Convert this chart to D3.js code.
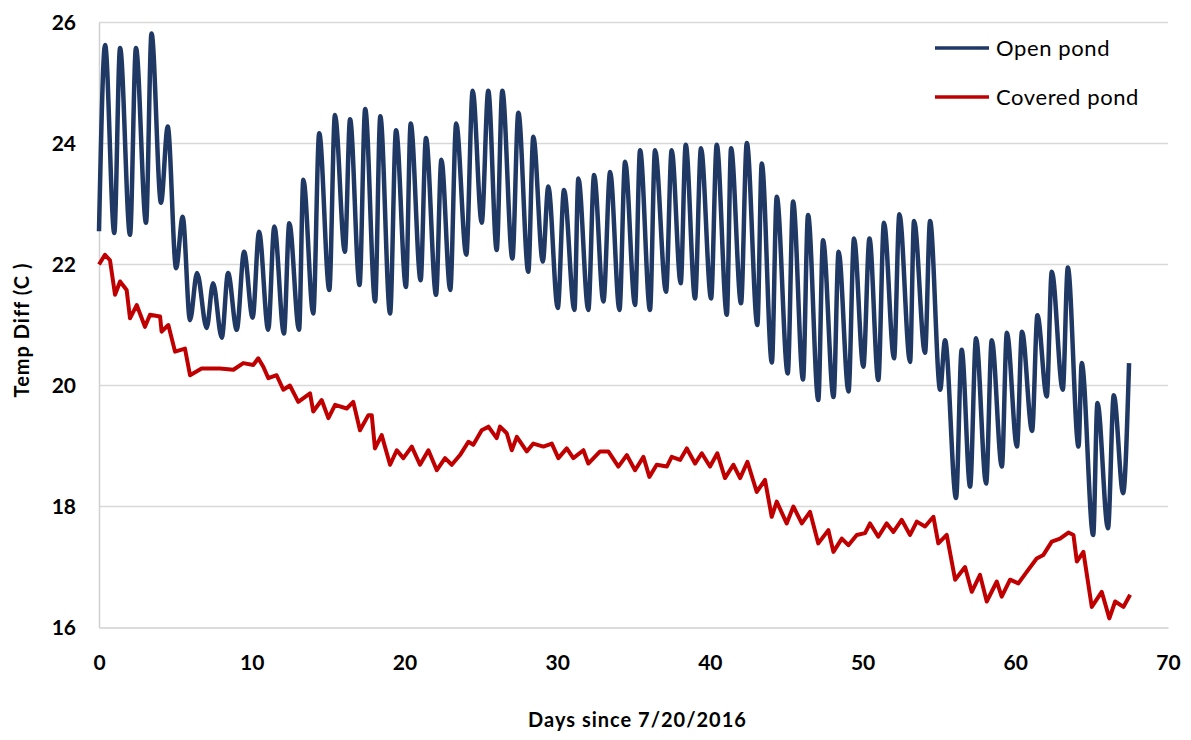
<!DOCTYPE html>
<html>
<head>
<meta charset="utf-8">
<script src="https://cdn.jsdelivr.net/npm/d3@7.9.0/dist/d3.min.js"></script>
<style>
  body { margin: 0; background: #fff; }
  svg { display: block; font-family: Lato, "Open Sans", sans-serif; }
</style>
</head>
<body>
<svg width="1191" height="740"></svg>
<script>
// open pond: daily peaks and troughs
const openDays = [0.0, 0.4, 1.0, 1.38, 2.03, 2.42, 3.08, 3.44, 4.06, 4.5, 5.05, 5.48, 5.96, 6.42, 7.05, 7.47, 8.04, 8.45, 9.02, 9.5,
  10.06, 10.48, 11.08, 11.48, 12.11, 12.46, 13.1, 13.38, 14.03, 14.42, 15.08, 15.45, 16.1, 16.44, 17.06, 17.43, 18.08, 18.42, 19.06, 19.45,
  20.1, 20.41, 21.06, 21.41, 22.07, 22.42, 23.0, 23.39, 24.05, 24.47, 25.06, 25.49, 26.04, 26.41, 27.07, 27.46, 28.11, 28.44, 29.06, 29.42,
  30.04, 30.45, 31.13, 31.39, 32.04, 32.42, 33.03, 33.47, 34.08, 34.45, 35.1, 35.43, 36.08, 36.41, 37.13, 37.5, 38.09, 38.42, 39.03, 39.42,
  40.08, 40.45, 41.11, 41.39, 42.04, 42.42, 43.11, 43.4, 44.06, 44.38, 45.1, 45.45, 46.1, 46.43, 47.1, 47.41, 48.1, 48.43, 49.08, 49.44,
  50.05, 50.45, 51.03, 51.4, 52.06, 52.41, 53.11, 53.37, 54.09, 54.42, 55.08, 55.4, 56.12, 56.49, 57.04, 57.43, 58.09, 58.46, 59.12, 59.45,
  60.11, 60.44, 61.1, 61.45, 62.06, 62.39, 63.11, 63.44, 64.14, 64.35, 65.1, 65.38, 66.07, 66.45, 67.06, 67.45];
const openTemp = [22.55, 25.63, 22.52, 25.58, 22.49, 25.58, 22.69, 25.82, 23.02, 24.28, 21.94, 22.79, 21.08, 21.86, 20.95, 21.69, 20.79, 21.86, 20.92, 22.21,
  21.12, 22.54, 20.92, 22.63, 20.86, 22.68, 20.92, 23.40, 21.19, 24.17, 21.58, 24.47, 22.21, 24.40, 21.66, 24.57, 21.39, 24.45, 21.19, 24.22,
  21.63, 24.33, 21.74, 24.09, 21.50, 23.73, 21.58, 24.33, 22.16, 24.87, 22.69, 24.87, 22.24, 24.87, 22.10, 24.51, 21.88, 24.11, 22.05, 23.29,
  21.28, 23.23, 21.25, 23.42, 21.25, 23.48, 21.39, 23.53, 21.25, 23.70, 21.33, 23.89, 21.25, 23.89, 21.55, 23.89, 21.69, 23.98, 21.44, 23.92,
  21.44, 23.98, 21.17, 23.92, 21.36, 24.01, 21.0, 23.67, 20.38, 23.12, 20.2, 23.04, 20.1, 22.82, 19.76, 22.40, 19.81, 22.21, 19.90, 22.43,
  20.31, 22.43, 20.09, 22.69, 20.45, 22.83, 20.39, 22.72, 20.54, 22.72, 19.93, 20.75, 18.14, 20.59, 18.33, 20.78, 18.38, 20.75, 18.66, 20.87,
  18.99, 20.89, 19.25, 21.16, 19.82, 21.88, 19.93, 21.95, 18.99, 20.37, 17.53, 19.71, 17.64, 19.84, 18.22, 20.37];

// covered pond
const coveredDays = [0.0, 0.39, 0.72, 1.05, 1.38, 1.81, 2.03, 2.47, 3.01, 3.34, 4.0, 4.1, 4.54, 4.98, 5.63, 5.96, 6.72, 7.92, 8.8, 9.45,
  10.1, 10.43, 10.76, 11.09, 11.63, 12.07, 12.5, 13.05, 13.82, 14.03, 14.58, 15.02, 15.46, 16.22, 16.65, 17.09, 17.64, 17.86, 18.07, 18.51,
  19.06, 19.5, 19.93, 20.48, 21.02, 21.57, 22.12, 22.66, 23.1, 23.64, 24.19, 24.51, 25.06, 25.5, 26.04, 26.26, 26.7, 27.03, 27.36, 28.01,
  28.44, 29.1, 29.65, 30.08, 30.63, 31.06, 31.72, 32.04, 32.81, 33.35, 34.01, 34.56, 35.1, 35.65, 36.04, 36.52, 37.18, 37.5, 38.05, 38.49,
  39.03, 39.47, 40.01, 40.49, 40.99, 41.54, 41.98, 42.46, 43.07, 43.61, 44.05, 44.38, 45.03, 45.47, 46.02, 46.56, 47.1, 47.76, 48.09, 48.64,
  49.07, 49.62, 50.16, 50.49, 51.03, 51.58, 52.02, 52.56, 53.11, 53.55, 54.09, 54.64, 54.96, 55.51, 56.06, 56.71, 57.15, 57.69, 58.13, 58.79,
  59.11, 59.66, 60.2, 60.75, 61.4, 61.84, 62.39, 62.93, 63.48, 63.81, 64.03, 64.46, 65.01, 65.66, 66.16, 66.54, 67.08, 67.52];
const coveredTemp = [22.0, 22.16, 22.07, 21.5, 21.72, 21.58, 21.11, 21.33, 20.97, 21.17, 21.14, 20.89, 21.0, 20.56, 20.61, 20.17, 20.28, 20.28, 20.26, 20.37,
  20.34, 20.45, 20.31, 20.12, 20.17, 19.93, 20.0, 19.73, 19.87, 19.57, 19.76, 19.46, 19.68, 19.62, 19.73, 19.26, 19.51, 19.51, 18.96, 19.18,
  18.69, 18.93, 18.80, 18.99, 18.69, 18.93, 18.60, 18.80, 18.69, 18.85, 19.07, 19.02, 19.26, 19.32, 19.13, 19.32, 19.21, 18.93, 19.15, 18.91,
  19.04, 18.99, 19.04, 18.80, 18.96, 18.80, 18.93, 18.71, 18.91, 18.91, 18.66, 18.85, 18.60, 18.82, 18.49, 18.69, 18.66, 18.82, 18.77, 18.96,
  18.71, 18.88, 18.66, 18.88, 18.47, 18.69, 18.47, 18.74, 18.24, 18.44, 17.83, 18.08, 17.72, 18.0, 17.72, 17.91, 17.39, 17.61, 17.25, 17.47,
  17.36, 17.53, 17.56, 17.72, 17.50, 17.72, 17.58, 17.78, 17.53, 17.75, 17.67, 17.83, 17.39, 17.53, 16.79, 17.0, 16.59, 16.87, 16.43, 16.76,
  16.51, 16.79, 16.73, 16.92, 17.14, 17.20, 17.42, 17.47, 17.57, 17.53, 17.09, 17.25, 16.34, 16.59, 16.15, 16.43, 16.34, 16.54];

const xTicks = [0, 10, 20, 30, 40, 50, 60, 70];
const yTicks = [16, 18, 20, 22, 24, 26];

const seriesNames = ['Open pond', 'Covered pond'];
const seriesColors = ['#203864', '#C00000'];

const margin = { top: 22.5, right: 23, bottom: 112.5, left: 99 };
const width = 1191 - margin.left - margin.right;
const height = 740 - margin.top - margin.bottom;

const svg = d3.select('svg');
const g = svg.append('g').attr('transform', `translate(${margin.left},${margin.top})`);

const x = d3.scaleLinear().domain([0, 70]).range([0, width]);
const y = d3.scaleLinear().domain([16, 26]).range([height, 0]);

// gridlines
g.append('g')
  .selectAll('line')
  .data(yTicks.filter(d => d > 16))
  .join('line')
  .attr('x1', 0).attr('x2', width)
  .attr('y1', d => y(d)).attr('y2', d => y(d))
  .attr('stroke', '#d9d9d9')
  .attr('stroke-width', 1.5);

// axes
const xAxis = g.append('g')
  .attr('transform', `translate(0,${height})`)
  .call(d3.axisBottom(x).tickValues(xTicks).tickSize(0).tickPadding(28));
const yAxis = g.append('g')
  .call(d3.axisLeft(y).tickValues(yTicks).tickSize(0).tickPadding(23));

[xAxis, yAxis].forEach(ax => {
  ax.select('.domain').attr('stroke', '#d0d0d0').attr('stroke-width', 1.5);
  ax.selectAll('text')
    .attr('fill', '#000')
    .style('font-size', '21px')
    .style('font-weight', 'bold')
    .style('font-family', 'Lato, "Open Sans", sans-serif');
});

// lines
const openData = openDays.map((d, i) => ({ x: d, y: openTemp[i] }));
const coveredData = coveredDays.map((d, i) => ({ x: d, y: coveredTemp[i] }));

const lineSmooth = d3.line().x(d => x(d.x)).y(d => y(d.y)).curve(d3.curveMonotoneX);
const lineRaw = d3.line().x(d => x(d.x)).y(d => y(d.y));

g.append('path')
  .datum(coveredData)
  .attr('d', lineRaw)
  .attr('fill', 'none')
  .attr('stroke', seriesColors[1])
  .attr('stroke-width', 4)
  .attr('stroke-linejoin', 'round');

g.append('path')
  .datum(openData)
  .attr('d', lineSmooth)
  .attr('fill', 'none')
  .attr('stroke', seriesColors[0])
  .attr('stroke-width', 4.5)
  .attr('stroke-linejoin', 'round');

// legend
const legend = svg.append('g').attr('transform', 'translate(935,48)');
seriesNames.forEach((name, i) => {
  const row = legend.append('g').attr('transform', `translate(0,${i * 49})`);
  row.append('line')
    .attr('x1', 0).attr('x2', 54)
    .attr('stroke', seriesColors[i])
    .attr('stroke-width', 3.5);
  row.append('text')
    .attr('x', 61).attr('y', 0)
    .attr('dy', '0.35em')
    .style('font-size', '22px')
    .style('letter-spacing', '0.6px')
    .text(name);
});

// axis titles
svg.append('text')
  .attr('x', margin.left + width / 2 + 4)
  .attr('y', 727)
  .attr('text-anchor', 'middle')
  .style('font-size', '20px')
  .style('font-weight', 'bold')
  .style('letter-spacing', '1px')
  .text('Days since 7/20/2016');

svg.append('text')
  .attr('transform', `translate(29,${margin.top + height / 2 + 5}) rotate(-90)`)
  .attr('text-anchor', 'middle')
  .style('font-size', '20px')
  .style('font-weight', 'bold')
  .style('letter-spacing', '1px')
  .text('Temp Diff (C )');
</script>
</body>
</html>
